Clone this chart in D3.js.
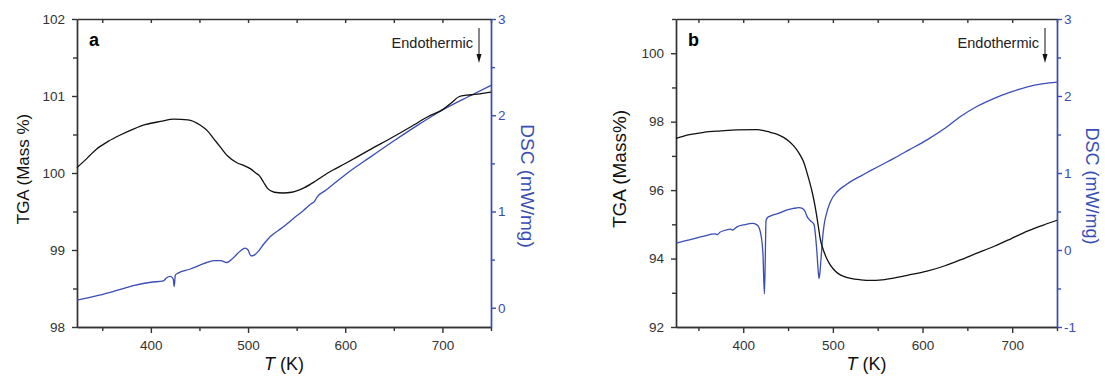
<!DOCTYPE html>
<html>
<head>
<meta charset="utf-8">
<script src="https://cdn.jsdelivr.net/npm/d3@7"></script>
<style>
  body { margin: 0; background: #fff; }
  svg text { font-family: "Liberation Sans", Arial, sans-serif; }
</style>
</head>
<body>
<svg id="chart" width="1105" height="383"></svg>
<script>
// panel a: TGA (mass %) and DSC (mW/mg) vs T (K)
const tgaA = [[324,100.07],[335,100.2],[344,100.31],[356,100.41],[368,100.49],[382,100.57],[395,100.63],[410,100.67],[424,100.70],[438,100.69],[451,100.62],[458,100.55],[465,100.44],[472,100.33],[479,100.22],[489,100.13],[497,100.09],[503,100.05],[508,100.0],[512,99.96],[516,99.88],[520,99.80],[527,99.75],[536,99.74],[545,99.75],[558,99.81],[570,99.90],[582,100.0],[601,100.13],[625,100.30],[651,100.48],[670,100.62],[685,100.73],[701,100.83],[710,100.92],[717,100.99],[725,101.01],[733,101.02],[750,101.05]];
const dscA = [[324,0.08],[347,0.13],[365,0.18],[382,0.23],[400,0.265],[413,0.28],[416,0.31],[420,0.325],[423,0.30],[424,0.22],[425.2,0.34],[428,0.36],[440,0.40],[455,0.46],[465,0.49],[472,0.49],[478,0.47],[485,0.52],[492,0.59],[497,0.62],[500,0.60],[503,0.54],[506,0.545],[510,0.58],[516,0.66],[523,0.74],[535,0.83],[547,0.93],[557,1.01],[565,1.08],[568,1.10],[571,1.15],[580,1.22],[601,1.39],[625,1.56],[651,1.74],[675,1.90],[701,2.06],[726,2.19],[750,2.31]];

// panel b
const tgaB = [[325,97.51],[340,97.62],[356,97.69],[375,97.73],[393,97.76],[415,97.77],[423,97.74],[430,97.69],[438,97.63],[445,97.54],[451,97.43],[456,97.30],[460,97.17],[464,97.0],[468,96.78],[471,96.52],[474,96.24],[477,95.93],[480,95.55],[482,95.24],[484,94.9],[486,94.56],[489,94.28],[492,94.07],[496,93.86],[501,93.68],[506,93.56],[512,93.48],[520,93.42],[531,93.38],[542,93.36],[555,93.38],[568,93.43],[585,93.52],[605,93.63],[625,93.79],[642,93.96],[660,94.15],[680,94.36],[698,94.57],[717,94.80],[735,94.98],[750,95.12]];
const dscB = [[325,0.09],[340,0.13],[356,0.18],[368,0.21],[371,0.20],[374,0.23],[378,0.25],[386,0.27],[388,0.26],[393,0.30],[402,0.33],[410,0.345],[415,0.33],[418,0.28],[420,0.18],[422,-0.05],[423.6,-0.57],[424.6,-0.1],[425.4,0.38],[427,0.42],[430,0.44],[440,0.48],[449,0.52],[456,0.54],[462,0.55],[466,0.54],[469,0.50],[471,0.44],[474,0.39],[477,0.36],[479,0.33],[480.5,0.2],[482,0.0],[483.5,-0.25],[484.5,-0.37],[485.5,-0.3],[487,-0.08],[488.5,0.15],[490,0.31],[493,0.48],[497,0.62],[505,0.76],[515,0.85],[523,0.91],[531,0.96],[542,1.03],[555,1.11],[568,1.19],[585,1.30],[605,1.43],[625,1.58],[642,1.73],[660,1.86],[680,1.97],[698,2.05],[717,2.12],[735,2.16],[750,2.18]];

// tick values
const xMajor = [400, 500, 600, 700];
const xMinor = [350, 450, 550, 650, 750];
const yLeftA = [98, 99, 100, 101, 102];
const yLeftAMinor = [98.5, 99.5, 100.5, 101.5];
const yLeftB = [92, 94, 96, 98, 100];
const yLeftBMinor = [93, 95, 97, 99, 101];
const yRightA = [0, 1, 2, 3];
const yRightAMinor = [0.5, 1.5, 2.5];
const yRightB = [-1, 0, 1, 2, 3];
const yRightBMinor = [-0.5, 0.5, 1.5, 2.5];

const blue = '#3a4db5', axisCol = '#333';
const svg = d3.select('#chart');
const fmt = d => d < 0 ? '-' + Math.abs(d) : String(d);

function drawPanel(p) {
  const x = d3.scaleLinear().domain(p.xDom).range([p.left, p.right]);
  const yL = d3.scaleLinear().domain(p.yLDom).range([p.bottom, p.top]);
  const yR = d3.scaleLinear().domain(p.yRDom).range([p.bottom, p.top]);
  const g = svg.append('g');

  const style = (sel, col) => {
    sel.selectAll('path,line').attr('stroke', col).attr('stroke-width', 1.4);
    sel.selectAll('text').attr('fill', col).attr('font-size', 13.5)
      .style('font-family', '"Liberation Sans", Arial, sans-serif');
  };

  // bottom
  g.append('g').attr('transform', `translate(0,${p.bottom})`)
    .call(d3.axisBottom(x).tickValues(xMajor).tickSize(6).tickPadding(7).tickSizeOuter(0).tickFormat(fmt))
    .call(s => style(s, axisCol));
  g.append('g').attr('transform', `translate(0,${p.bottom})`)
    .call(d3.axisBottom(x).tickValues(xMinor).tickSize(4).tickFormat('').tickSizeOuter(0))
    .call(s => style(s, axisCol));
  // top (ticks inward)
  g.append('g').attr('transform', `translate(0,${p.top})`)
    .call(d3.axisTop(x).tickValues(xMajor.concat(xMinor)).tickSize(-4).tickFormat('').tickSizeOuter(0))
    .call(s => style(s, axisCol));
  // left
  g.append('g').attr('transform', `translate(${p.left},0)`)
    .call(d3.axisLeft(yL).tickValues(p.yLTicks).tickSize(5).tickPadding(7).tickSizeOuter(0).tickFormat(fmt))
    .call(s => style(s, axisCol));
  g.append('g').attr('transform', `translate(${p.left},0)`)
    .call(d3.axisLeft(yL).tickValues(p.yLMinor).tickSize(4).tickFormat('').tickSizeOuter(0))
    .call(s => style(s, axisCol));
  // right (DSC)
  g.append('g').attr('transform', `translate(${p.right},0)`)
    .call(d3.axisRight(yR).tickValues(p.yRTicks).tickSize(5).tickPadding(2).tickSizeOuter(0).tickFormat(fmt))
    .call(s => style(s, blue));
  g.append('g').attr('transform', `translate(${p.right},0)`)
    .call(d3.axisRight(yR).tickValues(p.yRMinor).tickSize(4).tickFormat('').tickSizeOuter(0))
    .call(s => style(s, blue));

  // curves
  const lineL = d3.line().x(d => x(d[0])).y(d => yL(d[1])).curve(d3.curveMonotoneX);
  const lineR = d3.line().x(d => x(d[0])).y(d => yR(d[1])).curve(d3.curveMonotoneX);
  g.append('path').datum(p.dsc).attr('d', lineR)
    .attr('fill', 'none').attr('stroke', blue).attr('stroke-width', 1.3);
  g.append('path').datum(p.tga).attr('d', lineL)
    .attr('fill', 'none').attr('stroke', '#111').attr('stroke-width', 1.3);

  // panel letter
  g.append('text').attr('x', p.left + 12).attr('y', p.top + 27)
    .attr('font-size', 18).attr('font-weight', 'bold').text(p.letter);

  // endothermic note + arrow
  const ax = p.right - 12;
  g.append('text').attr('x', ax - 6).attr('y', p.top + 29)
    .attr('text-anchor', 'end').attr('font-size', 14.5).attr('fill', '#222').text('Endothermic');
  g.append('line').attr('x1', ax).attr('x2', ax).attr('y1', p.top + 9).attr('y2', p.top + 37)
    .attr('stroke', '#111').attr('stroke-width', 1);
  g.append('path')
    .attr('d', `M${ax - 2.5},${p.top + 35}L${ax + 2.5},${p.top + 35}L${ax},${p.top + 44}Z`)
    .attr('fill', '#111');

  // axis titles
  g.append('text')
    .attr('transform', `translate(${p.tgaX},${(p.top + p.bottom) / 2 - 4}) rotate(-90)`)
    .attr('text-anchor', 'middle').attr('font-size', p.tgaSize).attr('fill', '#111')
    .text(p.tgaLabel);
  g.append('text')
    .attr('transform', `translate(${p.dscX},${(p.top + p.bottom) / 2 + 13}) rotate(90)`)
    .attr('text-anchor', 'middle').attr('font-size', p.dscSize).attr('fill', blue)
    .text('DSC (mW/mg)');
  const xt = g.append('text').attr('x', (p.left + p.right) / 2).attr('y', 370)
    .attr('text-anchor', 'middle').attr('font-size', 18).attr('fill', '#111');
  xt.append('tspan').attr('font-style', 'italic').text('T');
  xt.append('tspan').text(' (K)');
}

drawPanel({
  letter: 'a', left: 77, right: 491, top: 19, bottom: 327,
  xDom: [324, 750], yLDom: [98, 102], yRDom: [-0.2, 3],
  yLTicks: yLeftA, yLMinor: yLeftAMinor, yRTicks: yRightA, yRMinor: yRightAMinor,
  tga: tgaA, dsc: dscA,
  tgaLabel: 'TGA (Mass %)', tgaSize: 17, tgaX: 29, dscX: 521, dscSize: 19
});
drawPanel({
  letter: 'b', left: 676, right: 1057, top: 19, bottom: 327,
  xDom: [325, 750], yLDom: [92, 101], yRDom: [-1, 3],
  yLTicks: yLeftB, yLMinor: yLeftBMinor, yRTicks: yRightB, yRMinor: yRightBMinor,
  tga: tgaB, dsc: dscB,
  tgaLabel: 'TGA (Mass%)', tgaSize: 19, tgaX: 626, dscX: 1086, dscSize: 18
});
</script>
</body>
</html>
